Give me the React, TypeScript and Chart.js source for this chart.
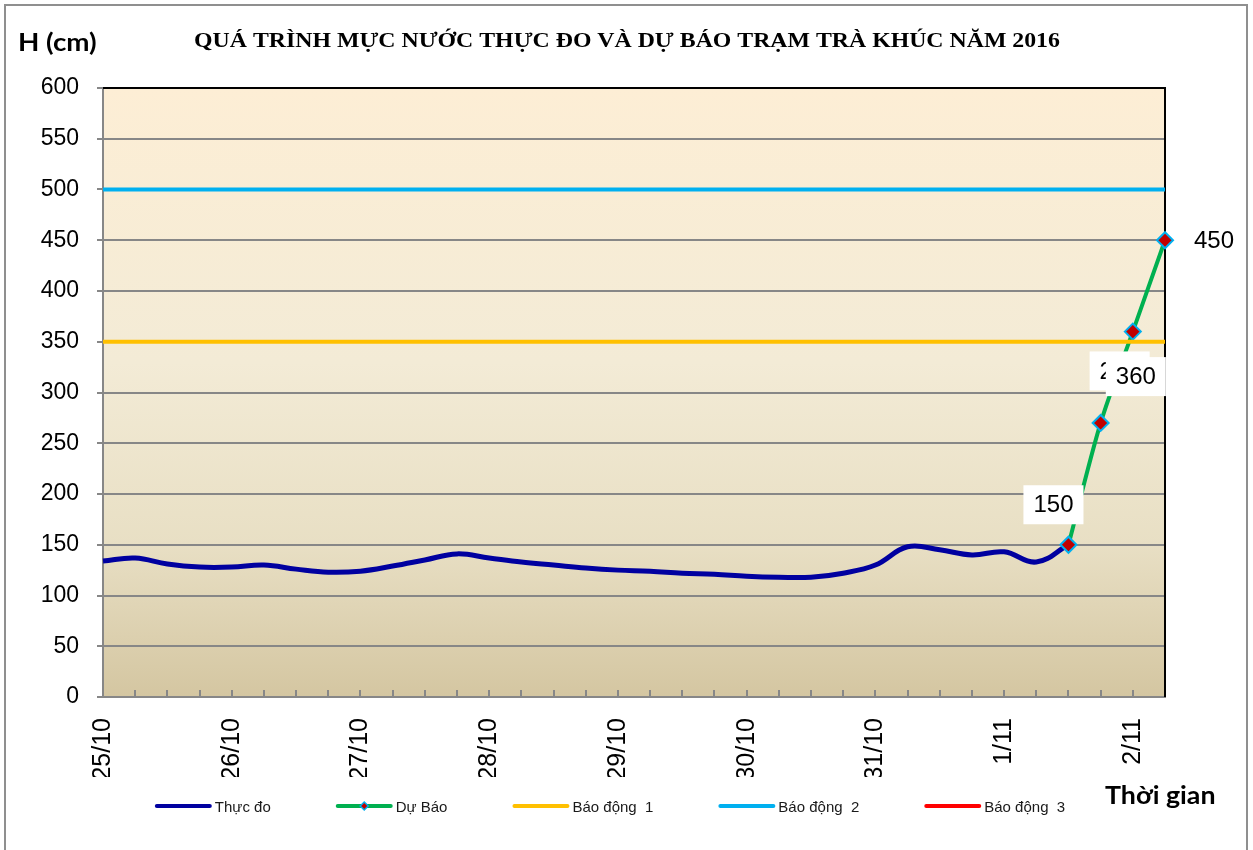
import React, { useEffect, useRef } from 'react';
import { Chart, registerables } from 'chart.js';

Chart.register(...registerables);

// ---- data ----
const DAYS = ['25/10', '26/10', '27/10', '28/10', '29/10', '30/10', '31/10', '1/11', '2/11'];
const HOURS = ['00h', '06h', '12h', '18h'];
const POINT_COUNT = 34; // 25/10 00h .. 2/11 06h, every 6 hours

const THUC_DO = [
  134, 137, 131, 128, 128, 130, 126, 123, 124, 129, 135, 141, 137, 133, 130, 127,
  125, 124, 122, 121, 119, 118, 118, 122, 130, 148, 145, 140, 143, 133, 150,
];
const DU_BAO_START = 30;
const DU_BAO = [150, 270, 360, 450];
const BAO_DONG_1 = 350;
const BAO_DONG_2 = 500;
const BAO_DONG_3 = 650;

const Y_TICKS = { min: 0, max: 600, step: 50 };

const TITLE = 'QUÁ TRÌNH MỰC NƯỚC THỰC ĐO VÀ DỰ BÁO TRẠM TRÀ KHÚC NĂM 2016';
const Y_TITLE = 'H (cm)';
const X_TITLE = 'Thời gian';

// label offsets (style) for forecast values
const LABEL_OFFSETS: Record<number, [number, number, boolean]> = {
  0: [-15, -40, true],
  1: [19, -52, true],
  2: [3, 45, true],
  3: [49, 0, false],
};

const labels: string[] = [];
DAYS.forEach((d) => HOURS.forEach((h) => labels.push(`${d} ${h}`)));
const TIME_LABELS = labels.slice(0, POINT_COUNT);

const measured = TIME_LABELS.map((_, i) => (i < THUC_DO.length ? THUC_DO[i] : null));
const forecast = TIME_LABELS.map((_, i) =>
  i >= DU_BAO_START && i < DU_BAO_START + DU_BAO.length ? DU_BAO[i - DU_BAO_START] : null
);

const SANS = '"Liberation Sans", Arial, sans-serif';

const COLORS = {
  thucDo: '#0000A0',
  duBao: '#00B050',
  bd1: '#FFC000',
  bd2: '#00B0F0',
  bd3: '#FF0000',
  marker: '#C00000',
  markerBorder: '#00B0F0',
  grid: '#878787',
};

function stretchedText(ctx: any, text: string, x: number, y: number, sx: number, align: string) {
  ctx.save();
  ctx.translate(x, y);
  ctx.scale(sx, 1);
  ctx.textAlign = align;
  ctx.fillText(text, 0, 0);
  ctx.restore();
}

const bgPlugin = {
  id: 'bgPlugin',
  beforeDraw(chart: any) {
    const { ctx, chartArea: a } = chart;
    ctx.save();
    ctx.fillStyle = '#ffffff';
    ctx.fillRect(0, 0, chart.width, chart.height);
    const g = ctx.createLinearGradient(0, a.top, 0, a.bottom);
    g.addColorStop(0, '#FDEED5');
    g.addColorStop(0.45, '#F3EBD6');
    g.addColorStop(0.75, '#E8DFC4');
    g.addColorStop(1, '#D4C6A1');
    ctx.fillStyle = g;
    ctx.fillRect(a.left, a.top, a.right - a.left, a.bottom - a.top);
    ctx.restore();
  },
  beforeDatasetsDraw(chart: any) {
    const { ctx, chartArea: a } = chart;
    const xs = chart.scales.x;
    ctx.save();
    ctx.strokeStyle = COLORS.grid;
    ctx.lineWidth = 2;
    for (let i = 1; i < TIME_LABELS.length; i++) {
      const x = Math.round(xs.getPixelForTick(i));
      ctx.beginPath();
      ctx.moveTo(x, a.bottom);
      ctx.lineTo(x, a.bottom - 7);
      ctx.stroke();
    }
    // top and right frame
    ctx.strokeStyle = '#000000';
    ctx.beginPath();
    ctx.moveTo(a.left, a.top);
    ctx.lineTo(a.right, a.top);
    ctx.lineTo(a.right, a.bottom);
    ctx.stroke();
    ctx.restore();
  },
};

const labelPlugin = {
  id: 'labelPlugin',
  afterDatasetsDraw(chart: any) {
    const { ctx } = chart;
    const meta = chart.getDatasetMeta(1);
    ctx.save();
    ctx.font = `24px ${SANS}`;
    ctx.textAlign = 'center';
    ctx.textBaseline = 'middle';
    DU_BAO.forEach((v, k) => {
      const el = meta.data[DU_BAO_START + k];
      if (!el) return;
      const [dx, dy, box] = LABEL_OFFSETS[k];
      const cx = el.x + dx;
      const cy = el.y + dy;
      const text = String(v);
      const w = ctx.measureText(text).width + 20;
      const h = 39;
      if (box) {
        ctx.fillStyle = '#ffffff';
        ctx.fillRect(cx - w / 2, cy - h / 2, w, h);
      }
      ctx.fillStyle = '#000000';
      ctx.fillText(text, cx, cy + 1);
    });
    ctx.restore();
  },
};

const decoPlugin = {
  id: 'decoPlugin',
  afterDraw(chart: any) {
    const { ctx } = chart;
    ctx.save();
    // outer border
    ctx.strokeStyle = '#8f8f8f';
    ctx.lineWidth = 2;
    ctx.beginPath();
    ctx.moveTo(5, chart.height + 5);
    ctx.lineTo(5, 5);
    ctx.lineTo(1247, 5);
    ctx.lineTo(1247, chart.height + 5);
    ctx.stroke();

    // title
    ctx.fillStyle = '#000000';
    ctx.textBaseline = 'alphabetic';
    ctx.font = 'bold 20px "Liberation Serif", "Times New Roman", serif';
    stretchedText(ctx, TITLE, 627, 47, 1.19, 'center');

    // axis titles
    ctx.font = 'bold 25px Lato, "Open Sans", sans-serif';
    stretchedText(ctx, Y_TITLE, 18, 51, 1.11, 'left');
    stretchedText(ctx, X_TITLE, 1105, 804, 1.07, 'left');

    // legend
    const ds = chart.data.datasets;
    ctx.font = `15px ${SANS}`;
    ctx.textAlign = 'left';
    const lineLen = 53;
    const gap = 5;
    const spacing = 67;
    const widths = ds.map((d: any) => lineLen + gap + ctx.measureText(d.label).width);
    const total = widths.reduce((s: number, w: number) => s + w, 0) + spacing * (ds.length - 1);
    let x = 611 - total / 2;
    const y = 806;
    ds.forEach((d: any, i: number) => {
      ctx.strokeStyle = d.borderColor;
      ctx.lineWidth = 4;
      ctx.lineCap = 'round';
      ctx.beginPath();
      ctx.moveTo(x, y);
      ctx.lineTo(x + lineLen, y);
      ctx.stroke();
      if (d.pointRadius > 0) {
        const mx = x + lineLen / 2;
        ctx.fillStyle = d.pointBackgroundColor;
        ctx.strokeStyle = d.pointBorderColor;
        ctx.lineWidth = 1.5;
        ctx.beginPath();
        ctx.moveTo(mx, y - 4);
        ctx.lineTo(mx + 4, y);
        ctx.lineTo(mx, y + 4);
        ctx.lineTo(mx - 4, y);
        ctx.closePath();
        ctx.fill();
        ctx.stroke();
      }
      ctx.fillStyle = '#1a1a1a';
      ctx.textBaseline = 'middle';
      ctx.fillText(d.label, x + lineLen + gap, y + 2);
      x += widths[i] + spacing;
    });
    ctx.restore();
  },
};

export default function App() {
  const ref = useRef<HTMLCanvasElement | null>(null);

  useEffect(() => {
    if (!ref.current) return;
    const flat = (v: number) => TIME_LABELS.map(() => v);
    const lineBase = { pointRadius: 0, pointHoverRadius: 0, fill: false, tension: 0 };
    const chart = new Chart(ref.current, {
      type: 'line',
      data: {
        labels: TIME_LABELS,
        datasets: [
          {
            ...lineBase,
            label: 'Thực đo',
            data: measured,
            borderColor: COLORS.thucDo,
            borderWidth: 5,
            tension: 0.4,
            order: 5,
          },
          {
            label: 'Dự Báo',
            data: forecast,
            borderColor: COLORS.duBao,
            borderWidth: 4,
            tension: 0.3,
            pointStyle: 'rectRot',
            pointRadius: 8,
            pointBackgroundColor: COLORS.marker,
            pointBorderColor: COLORS.markerBorder,
            pointBorderWidth: 2,
            fill: false,
            order: 4,
          },
          { ...lineBase, label: 'Báo động  1', data: flat(BAO_DONG_1), borderColor: COLORS.bd1, borderWidth: 4, order: 3 },
          { ...lineBase, label: 'Báo động  2', data: flat(BAO_DONG_2), borderColor: COLORS.bd2, borderWidth: 4, order: 2 },
          { ...lineBase, label: 'Báo động  3', data: flat(BAO_DONG_3), borderColor: COLORS.bd3, borderWidth: 4, order: 1 },
        ],
      } as any,
      options: {
        responsive: false,
        animation: false,
        layout: { padding: { top: 88, left: 0, right: 88, bottom: 73 } },
        plugins: {
          legend: { display: false },
          title: { display: false },
          tooltip: { enabled: false },
        },
        scales: {
          x: {
            type: 'category',
            offset: false,
            grid: { display: false, drawTicks: false },
            border: { display: true, color: COLORS.grid, width: 2 },
            ticks: {
              autoSkip: false,
              maxRotation: 90,
              minRotation: 90,
              padding: 21,
              color: '#000000',
              font: { family: SANS, size: 25 },
              callback: (_v: any, i: number) => (i % HOURS.length === 0 ? DAYS[i / HOURS.length] : ''),
            },
            afterFit: (s: any) => {
              s.height = 80;
            },
          },
          y: {
            min: Y_TICKS.min,
            max: Y_TICKS.max,
            ticks: {
              stepSize: Y_TICKS.step,
              padding: 18,
              color: '#000000',
              font: { family: SANS, size: 23 },
            },
            grid: { color: COLORS.grid, lineWidth: 2, tickLength: 6, drawTicks: true },
            border: { display: true, color: COLORS.grid, width: 2 },
            afterFit: (s: any) => {
              s.width = 103;
            },
          },
        },
      } as any,
      plugins: [bgPlugin, labelPlugin, decoPlugin],
    });
    return () => chart.destroy();
  }, []);

  return (
    <div style={{ position: 'absolute', left: 0, top: 0, width: 1253, height: 850, overflow: 'hidden' }}>
      <canvas ref={ref} width={1253} height={850} style={{ display: 'block' }} />
    </div>
  );
}
